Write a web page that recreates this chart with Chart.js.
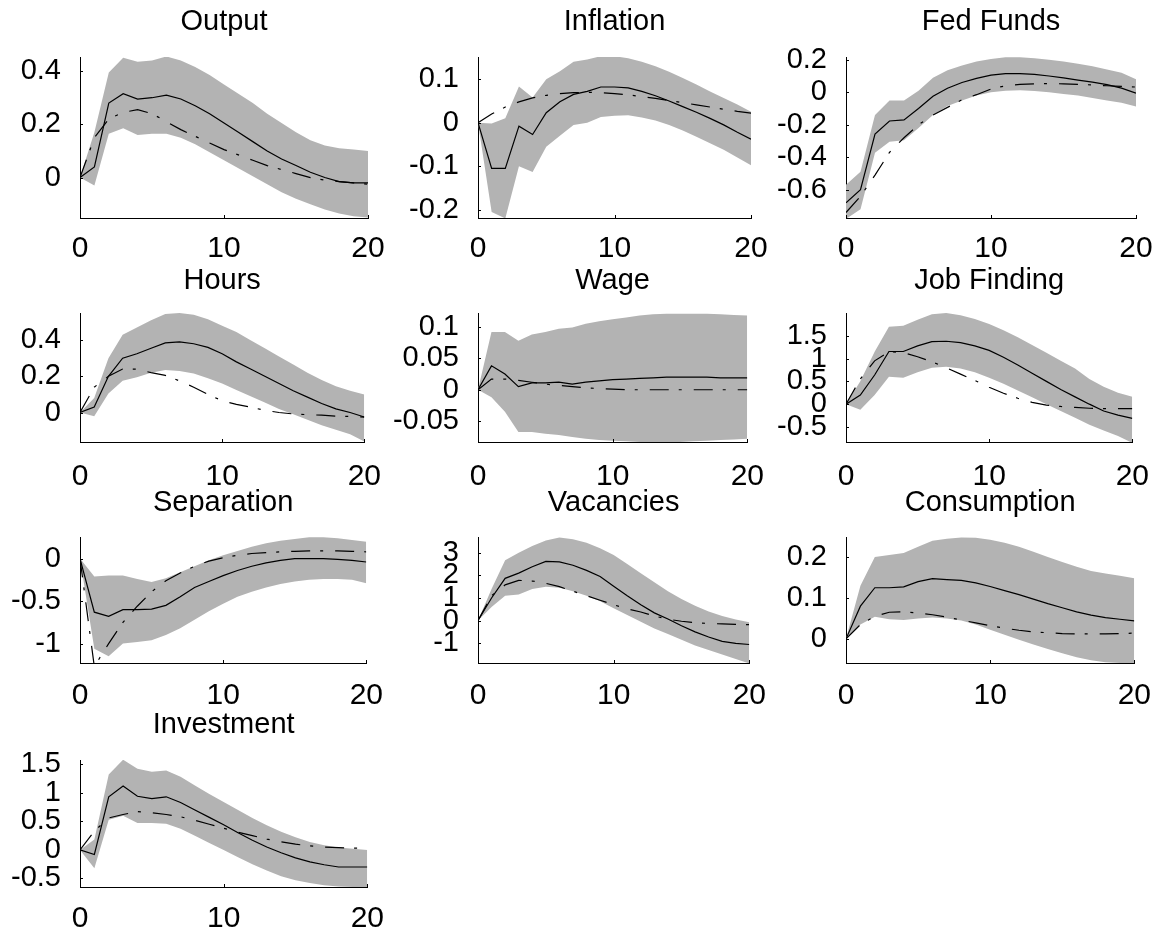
<!DOCTYPE html>
<html>
<head>
<meta charset="utf-8">
<script src="https://cdn.jsdelivr.net/npm/chart.js@4.4.1/dist/chart.umd.min.js"></script>
<style>
  html, body { margin: 0; padding: 0; background: #fff; }
  body { width: 1165px; height: 934px; position: relative; overflow: hidden; }
  canvas { position: absolute; }
</style>
</head>
<body>
<script>
// horizons (quarters) and shared x ticks
const horizons = [0, 1, 2, 3, 4, 5, 6, 7, 8, 9, 10, 11, 12, 13, 14, 15, 16, 17, 18, 19, 20];
const xTicks = [0, 10, 20];

// Output
const outputUpper  = [0, 0.17, 0.395, 0.45, 0.435, 0.44, 0.455, 0.44, 0.415, 0.385, 0.35, 0.315, 0.28, 0.24, 0.205, 0.17, 0.14, 0.12, 0.11, 0.105, 0.10];
const outputLower  = [0, -0.03, 0.165, 0.185, 0.16, 0.165, 0.165, 0.15, 0.125, 0.095, 0.065, 0.035, 0.005, -0.025, -0.055, -0.08, -0.10, -0.12, -0.135, -0.145, -0.15];
const outputMedian = [0, 0.04, 0.28, 0.315, 0.295, 0.30, 0.31, 0.295, 0.27, 0.24, 0.205, 0.17, 0.135, 0.10, 0.07, 0.045, 0.02, 0.0, -0.015, -0.02, -0.02];
const outputModel  = [0, 0.15, 0.22, 0.245, 0.255, 0.24, 0.21, 0.18, 0.155, 0.13, 0.105, 0.085, 0.065, 0.045, 0.03, 0.015, 0.0, -0.01, -0.015, -0.02, -0.025];

// Inflation
const inflationUpper  = [0, -0.002, 0.01, 0.083, 0.058, 0.10, 0.118, 0.14, 0.145, 0.153, 0.153, 0.148, 0.14, 0.13, 0.117, 0.103, 0.088, 0.072, 0.057, 0.042, 0.025];
const inflationLower  = [0, -0.205, -0.22, -0.10, -0.113, -0.055, -0.03, -0.005, 0.0, 0.013, 0.016, 0.017, 0.012, 0.005, -0.005, -0.018, -0.032, -0.047, -0.062, -0.08, -0.098];
const inflationMedian = [0, -0.105, -0.105, -0.008, -0.027, 0.023, 0.048, 0.065, 0.072, 0.082, 0.082, 0.08, 0.072, 0.062, 0.05, 0.037, 0.024, 0.01, -0.005, -0.022, -0.038];
const inflationModel  = [0, 0.02, 0.036, 0.048, 0.057, 0.063, 0.067, 0.069, 0.07, 0.069, 0.067, 0.064, 0.06, 0.056, 0.051, 0.046, 0.041, 0.036, 0.031, 0.026, 0.022];

// Fed Funds
const fedUpper  = [-0.57, -0.49, -0.14, -0.05, -0.05, 0.01, 0.09, 0.135, 0.165, 0.19, 0.205, 0.215, 0.215, 0.21, 0.20, 0.19, 0.175, 0.16, 0.14, 0.12, 0.08];
const fedLower  = [-0.78, -0.72, -0.373, -0.305, -0.295, -0.22, -0.14, -0.085, -0.05, -0.02, 0.0, 0.01, 0.012, 0.008, 0.0, -0.01, -0.02, -0.035, -0.05, -0.065, -0.088];
const fedMedian = [-0.68, -0.60, -0.257, -0.177, -0.17, -0.10, -0.025, 0.025, 0.06, 0.085, 0.105, 0.115, 0.115, 0.11, 0.10, 0.088, 0.075, 0.062, 0.047, 0.025, -0.005];
const fedModel  = [-0.74, -0.64, -0.51, -0.37, -0.28, -0.20, -0.14, -0.093, -0.046, -0.015, 0.02, 0.04, 0.048, 0.052, 0.053, 0.052, 0.049, 0.045, 0.04, 0.036, 0.032];

// Hours
const hoursUpper  = [0, 0.08, 0.30, 0.43, 0.47, 0.51, 0.545, 0.55, 0.54, 0.515, 0.48, 0.445, 0.40, 0.355, 0.31, 0.265, 0.22, 0.18, 0.145, 0.12, 0.10];
const hoursLower  = [0, -0.02, 0.105, 0.175, 0.195, 0.22, 0.235, 0.23, 0.215, 0.19, 0.16, 0.125, 0.09, 0.055, 0.02, -0.01, -0.04, -0.07, -0.095, -0.12, -0.16];
const hoursMedian = [0, 0.03, 0.20, 0.30, 0.325, 0.355, 0.385, 0.39, 0.38, 0.36, 0.325, 0.28, 0.24, 0.20, 0.16, 0.12, 0.085, 0.05, 0.02, 0.0, -0.025];
const hoursModel  = [0, 0.14, 0.20, 0.24, 0.24, 0.22, 0.205, 0.175, 0.14, 0.10, 0.065, 0.045, 0.03, 0.012, 0.0, -0.008, -0.012, -0.015, -0.02, -0.022, -0.025];

// Wage
const wageUpper  = [0, 0.092, 0.092, 0.078, 0.088, 0.092, 0.097, 0.099, 0.105, 0.109, 0.112, 0.115, 0.118, 0.12, 0.121, 0.121, 0.121, 0.121, 0.12, 0.119, 0.118];
const wageLower  = [0, -0.012, -0.035, -0.067, -0.067, -0.07, -0.072, -0.075, -0.078, -0.08, -0.081, -0.082, -0.083, -0.083, -0.083, -0.083, -0.082, -0.081, -0.08, -0.079, -0.078];
const wageMedian = [0, 0.038, 0.025, 0.005, 0.011, 0.011, 0.012, 0.009, 0.012, 0.014, 0.016, 0.017, 0.018, 0.019, 0.02, 0.02, 0.02, 0.02, 0.019, 0.019, 0.019];
const wageModel  = [0, 0.017, 0.017, 0.015, 0.012, 0.009, 0.007, 0.005, 0.003, 0.002, 0.001, 0.0, 0.0, 0.0, 0.0, 0.0, 0.0, 0.0, 0.0, 0.0, 0.0];

// Job Finding
const jobUpper  = [0, 0.5, 1.15, 1.70, 1.72, 1.85, 1.97, 2.0, 1.95, 1.87, 1.76, 1.62, 1.47, 1.30, 1.13, 0.95, 0.78, 0.55, 0.38, 0.25, 0.16];
const jobLower  = [0, -0.12, 0.20, 0.60, 0.58, 0.70, 0.80, 0.82, 0.78, 0.70, 0.58, 0.45, 0.30, 0.15, 0.0, -0.15, -0.30, -0.45, -0.58, -0.70, -0.85];
const jobMedian = [0, 0.20, 0.64, 1.155, 1.155, 1.28, 1.37, 1.38, 1.35, 1.28, 1.18, 1.03, 0.86, 0.68, 0.50, 0.32, 0.16, 0.0, -0.15, -0.24, -0.31];
const jobModel  = [0, 0.55, 0.95, 1.15, 1.13, 1.04, 0.93, 0.80, 0.66, 0.52, 0.37, 0.24, 0.13, 0.04, -0.02, -0.05, -0.07, -0.09, -0.10, -0.10, -0.10];

// Separation
const sepUpper  = [0, -0.21, -0.20, -0.20, -0.24, -0.275, -0.23, -0.16, -0.09, -0.02, 0.04, 0.09, 0.14, 0.18, 0.21, 0.23, 0.25, 0.25, 0.24, 0.22, 0.197];
const sepLower  = [0, -1.06, -1.15, -1.0, -0.98, -0.96, -0.90, -0.82, -0.72, -0.62, -0.53, -0.45, -0.39, -0.34, -0.30, -0.27, -0.25, -0.24, -0.24, -0.25, -0.29];
const sepMedian = [0, -0.63, -0.68, -0.60, -0.60, -0.595, -0.55, -0.45, -0.34, -0.27, -0.20, -0.14, -0.09, -0.05, -0.02, 0.0, 0.0, 0.0, -0.01, -0.02, -0.04];
const sepModel  = [0, -1.27, -1.0, -0.75, -0.56, -0.39, -0.26, -0.17, -0.09, -0.03, 0.01, 0.04, 0.06, 0.07, 0.08, 0.085, 0.09, 0.09, 0.09, 0.085, 0.08];

// Vacancies
const vacUpper  = [0, 1.4, 2.67, 3.0, 3.3, 3.55, 3.68, 3.6, 3.45, 3.2, 2.9, 2.5, 2.1, 1.7, 1.3, 0.95, 0.65, 0.4, 0.2, 0.05, -0.07];
const vacLower  = [0, 0.6, 1.1, 1.15, 1.4, 1.5, 1.45, 1.3, 1.1, 0.85, 0.55, 0.25, -0.05, -0.35, -0.6, -0.85, -1.1, -1.3, -1.5, -1.7, -1.9];
const vacMedian = [0, 1.0, 1.87, 2.1, 2.38, 2.62, 2.6, 2.45, 2.22, 1.95, 1.52, 1.1, 0.7, 0.34, 0.07, -0.23, -0.5, -0.73, -0.92, -1.01, -1.06];
const vacModel  = [0, 1.1, 1.58, 1.78, 1.75, 1.65, 1.5, 1.3, 1.1, 0.9, 0.7, 0.52, 0.38, 0.2, 0.06, -0.03, -0.09, -0.13, -0.15, -0.17, -0.18];

// Consumption
const consUpper  = [0, 0.13, 0.20, 0.205, 0.21, 0.225, 0.24, 0.245, 0.248, 0.247, 0.242, 0.235, 0.225, 0.213, 0.20, 0.188, 0.176, 0.166, 0.16, 0.154, 0.148];
const consLower  = [0, 0.035, 0.054, 0.048, 0.046, 0.05, 0.052, 0.05, 0.045, 0.035, 0.022, 0.01, -0.002, -0.014, -0.025, -0.035, -0.045, -0.052, -0.057, -0.059, -0.06];
const consMedian = [0, 0.08, 0.125, 0.125, 0.127, 0.14, 0.147, 0.145, 0.143, 0.137, 0.128, 0.118, 0.108, 0.097, 0.086, 0.076, 0.066, 0.058, 0.052, 0.048, 0.044];
const consModel  = [0, 0.035, 0.055, 0.065, 0.066, 0.063, 0.059, 0.053, 0.046, 0.039, 0.032, 0.026, 0.021, 0.017, 0.015, 0.013, 0.012, 0.012, 0.012, 0.013, 0.014];

// Investment
const invUpper  = [0, 0.18, 1.32, 1.58, 1.42, 1.37, 1.39, 1.28, 1.13, 0.98, 0.84, 0.70, 0.56, 0.43, 0.32, 0.22, 0.14, 0.08, 0.04, 0.02, 0.0];
const invLower  = [0, -0.32, 0.53, 0.60, 0.47, 0.47, 0.46, 0.37, 0.25, 0.12, 0.0, -0.13, -0.25, -0.36, -0.46, -0.53, -0.58, -0.62, -0.64, -0.65, -0.65];
const invMedian = [0, -0.08, 0.93, 1.12, 0.94, 0.90, 0.93, 0.83, 0.70, 0.57, 0.44, 0.30, 0.17, 0.05, -0.05, -0.14, -0.21, -0.26, -0.30, -0.30, -0.30];
const invModel  = [0, 0.33, 0.56, 0.62, 0.67, 0.65, 0.62, 0.58, 0.52, 0.45, 0.38, 0.31, 0.25, 0.19, 0.14, 0.10, 0.07, 0.05, 0.04, 0.03, 0.03];

// panel titles, y limits and y tick labels
const titles = ['Output', 'Inflation', 'Fed Funds', 'Hours', 'Wage', 'Job Finding', 'Separation', 'Vacancies', 'Consumption', 'Investment'];
const yLimits = [[-0.152, 0.453], [-0.219, 0.151], [-0.774, 0.217], [-0.163, 0.55], [-0.083, 0.122],
                 [-0.83, 2.0], [-1.228, 0.254], [-1.88, 3.7], [-0.059, 0.249], [-0.65, 1.575]];
const yTicks = [[0, 0.2, 0.4], [-0.2, -0.1, 0, 0.1], [-0.6, -0.4, -0.2, 0, 0.2], [0, 0.2, 0.4], [-0.05, 0, 0.05, 0.1],
                [-0.5, 0, 0.5, 1, 1.5], [-1, -0.5, 0], [-1, 0, 1, 2, 3], [0, 0.1, 0.2], [-0.5, 0, 0.5, 1, 1.5]];

const series = [
    [outputUpper, outputLower, outputMedian, outputModel],
    [inflationUpper, inflationLower, inflationMedian, inflationModel],
    [fedUpper, fedLower, fedMedian, fedModel],
    [hoursUpper, hoursLower, hoursMedian, hoursModel],
    [wageUpper, wageLower, wageMedian, wageModel],
    [jobUpper, jobLower, jobMedian, jobModel],
    [sepUpper, sepLower, sepMedian, sepModel],
    [vacUpper, vacLower, vacMedian, vacModel],
    [consUpper, consLower, consMedian, consModel],
    [invUpper, invLower, invMedian, invModel]
];

// layout of the subplot grid (plot area boxes, pixels)
const colLeft = [80, 478, 846];
const colWidth = [288, 273, 290];
const rowTop = [57, 313, 537, 760];
const rowHeight = [161, 129, 126, 127];
const titleGap = [36, 33, 35, 36];
const xLabelPad = [8, 12, 10, 9];

const FONT = "'Liberation Sans', Arial, Helvetica, sans-serif";
const LEFT = 100, TOP = 57, RIGHT = 25, BOTTOM = 50, TICK_LEN = 3;
const BAND = '#b3b3b3';

Chart.defaults.font.family = FONT;
Chart.defaults.color = '#000';

// MATLAB style: short tick marks pointing into the plot
const inwardTicks = {
    id: 'inwardTicks',
    afterDatasetsDraw(chart) {
        const { ctx, chartArea } = chart;
        const xs = chart.scales.x, ys = chart.scales.y;
        ctx.save();
        ctx.strokeStyle = '#000';
        ctx.lineWidth = 1;
        ctx.beginPath();
        xs.ticks.forEach(t => {
            const px = Math.round(xs.getPixelForValue(t.value)) + 0.5;
            ctx.moveTo(px, chartArea.bottom);
            ctx.lineTo(px, chartArea.bottom - TICK_LEN);
        });
        ys.ticks.forEach(t => {
            const py = Math.round(ys.getPixelForValue(t.value)) + 0.5;
            ctx.moveTo(chartArea.left, py);
            ctx.lineTo(chartArea.left + TICK_LEN, py);
        });
        ctx.stroke();
        ctx.restore();
    }
};

function toPoints(values) {
    return horizons.map((h, i) => ({ x: h, y: values[i] }));
}

function drawPanel(i) {
    const row = Math.floor(i / 3), col = i % 3;
    const w = LEFT + colWidth[col] + RIGHT;
    const h = TOP + rowHeight[row] + BOTTOM;
    const canvas = document.createElement('canvas');
    canvas.width = w;
    canvas.height = h;
    canvas.style.left = (colLeft[col] - LEFT) + 'px';
    canvas.style.top = (rowTop[row] - TOP) + 'px';
    document.body.appendChild(canvas);

    const [upper, lower, median, model] = series[i];
    const padTop = TOP - titleGap[row] - 14;

    new Chart(canvas.getContext('2d'), {
        type: 'line',
        data: {
            datasets: [
                { data: toPoints(median), borderColor: '#000', borderWidth: 1.2, pointRadius: 0, fill: false },
                { data: toPoints(model), borderColor: '#000', borderWidth: 1.2, borderDash: [19, 10, 3, 12], pointRadius: 0, fill: false },
                { data: toPoints(upper), borderColor: 'rgba(0,0,0,0)', borderWidth: 0, pointRadius: 0, backgroundColor: BAND, fill: '+1' },
                { data: toPoints(lower), borderColor: 'rgba(0,0,0,0)', borderWidth: 0, pointRadius: 0, fill: false }
            ]
        },
        options: {
            responsive: false,
            animation: false,
            devicePixelRatio: 1,
            layout: { padding: { left: 0, right: RIGHT, top: 0, bottom: 0 } },
            plugins: {
                legend: { display: false },
                tooltip: { enabled: false },
                filler: { drawTime: 'beforeDatasetsDraw' },
                title: {
                    display: true,
                    fullSize: false,
                    text: titles[i],
                    color: '#000',
                    font: { size: 29, weight: 'normal', lineHeight: 1 },
                    padding: { top: padTop, bottom: TOP - 29 - padTop }
                }
            },
            scales: {
                x: {
                    type: 'linear',
                    min: 0,
                    max: 20,
                    grid: { display: false },
                    border: { display: true, color: '#000', width: 1 },
                    ticks: { color: '#000', font: { size: 30, lineHeight: 1 }, padding: xLabelPad[row], autoSkip: false, maxRotation: 0 },
                    afterBuildTicks: s => { s.ticks = xTicks.map(v => ({ value: v })); },
                    afterFit: s => { s.height = BOTTOM; }
                },
                y: {
                    type: 'linear',
                    min: yLimits[i][0],
                    max: yLimits[i][1],
                    bounds: 'data',
                    grid: { display: false },
                    border: { display: true, color: '#000', width: 1 },
                    ticks: { color: '#000', font: { size: 29, lineHeight: 1 }, padding: 11, autoSkip: false, callback: v => String(v) },
                    afterBuildTicks: s => { s.ticks = yTicks[i].map(v => ({ value: v })); },
                    afterFit: s => { s.width = LEFT; }
                }
            }
        },
        plugins: [inwardTicks]
    });
}

titles.forEach((t, i) => drawPanel(i));
</script>
</body>
</html>
